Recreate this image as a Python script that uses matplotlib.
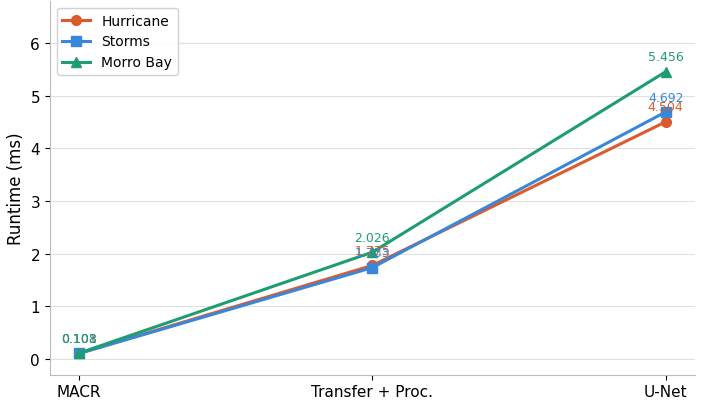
import numpy as np
import matplotlib
matplotlib.use("Agg")
import matplotlib.pyplot as plt

stages = ["MACR", "Transfer + Proc.", "U-Net"]
hurricane = [0.103, 1.775, 4.504]
storms = [0.101, 1.733, 4.692]
morro_bay = [0.108, 2.026, 5.456]

series = [
    ("Hurricane", hurricane, "#DD5A2C", "o"),
    ("Storms", storms, "#3A87D9", "s"),
    ("Morro Bay", morro_bay, "#1E9E70", "^"),
]

fig, ax = plt.subplots(figsize=(7.02, 4.06), dpi=100)
x = np.arange(len(stages))

for name, vals, color, marker in series:
    ax.plot(x, vals, color=color, marker=marker, lw=2.2, markersize=7, label=name)
    for xi, v in zip(x, vals):
        ax.annotate(f"{v:.3f}", (xi, v), textcoords="offset points",
                    xytext=(0, 6), ha="center", va="bottom",
                    fontsize=9, color=color)

ax.set_xticks(x)
ax.set_xticklabels(stages, fontsize=11)
ax.set_xlim(-0.1, 2.1)
ax.set_ylim(-0.3, 6.8)
ax.set_yticks(range(0, 7))
ax.tick_params(axis="y", labelsize=11)
ax.set_ylabel("Runtime (ms)", fontsize=12)
ax.grid(axis="y", color="#e0e0e0", lw=0.8)
ax.set_axisbelow(True)
for s in ["top", "right"]:
    ax.spines[s].set_visible(False)
for s in ["left", "bottom"]:
    ax.spines[s].set_color("#bbbbbb")
ax.legend(loc="upper left", fontsize=10, framealpha=0.9)

plt.subplots_adjust(left=0.071, right=0.99, top=0.995, bottom=0.075)
plt.savefig("out.png", dpi=100)
